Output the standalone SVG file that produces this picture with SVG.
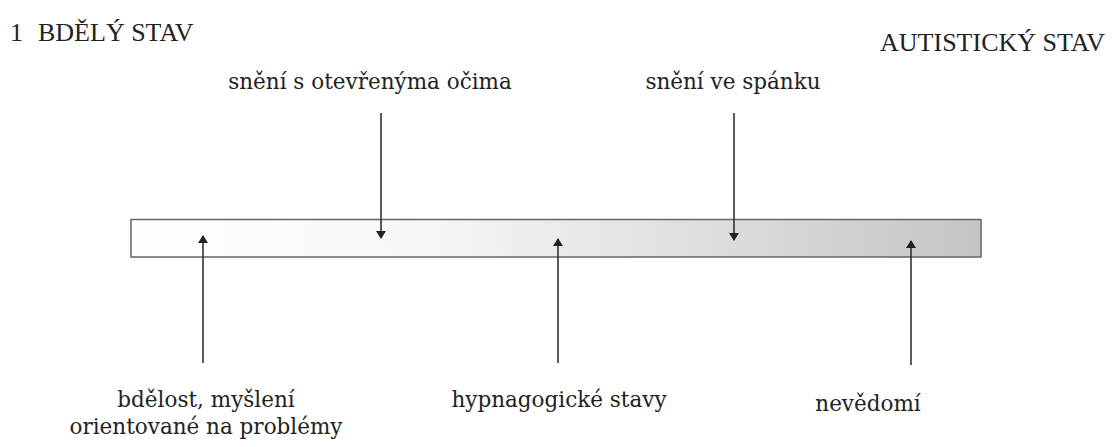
<svg xmlns="http://www.w3.org/2000/svg" width="1116" height="447" viewBox="0 0 1116 447">
<defs>
<linearGradient id="g" x1="0" y1="0" x2="1" y2="0">
<stop offset="0" stop-color="#ffffff"/>
<stop offset="0.35" stop-color="#f6f6f6"/>
<stop offset="0.7" stop-color="#dcdcdc"/>
<stop offset="1" stop-color="#c4c4c4"/>
</linearGradient>
<marker id="ah" viewBox="0 0 8 10" refX="7" refY="5" markerWidth="8" markerHeight="10" markerUnits="userSpaceOnUse" orient="auto">
<path d="M0,0 L8,5 L0,10 z" fill="#222"/>
</marker>
</defs>
<style>
.ttl{font-family:"Liberation Serif",serif;fill:#222;font-size:26px}
.lbl{font-family:"DejaVu Serif",serif;fill:#222;font-size:21.5px;text-anchor:middle}
.arr{stroke:#333;stroke-width:1.6;fill:none;marker-end:url(#ah)}
</style>
<rect width="1116" height="447" fill="#fff"/>
<g id="bar">
<rect x="131" y="219.5" width="850" height="37.5" fill="url(#g)" stroke="#666" stroke-width="1.5"/>
</g>
<g id="title-left"><text class="ttl" x="10" y="41">1</text><text class="ttl" x="38" y="41">BDĚLÝ STAV</text></g>
<g id="title-right"><text class="ttl" x="1105" y="51" text-anchor="end">AUTISTICKÝ STAV</text></g>
<g id="n1"><text class="lbl" x="370" y="89">snění s otevřenýma očima</text></g>
<g id="n2"><text class="lbl" x="733" y="89">snění ve spánku</text></g>
<g id="n3"><text class="lbl" x="206" y="407">bdělost, myšlení</text><text class="lbl" x="206" y="434">orientované na problémy</text></g>
<g id="n4"><text class="lbl" x="559" y="407">hypnagogické stavy</text></g>
<g id="n5"><text class="lbl" x="868" y="411">nevědomí</text></g>
<g id="connectors">
<line class="arr" x1="381" y1="113" x2="381" y2="238"/>
<line class="arr" x1="734" y1="113" x2="734" y2="240"/>
<line class="arr" x1="203" y1="363" x2="203" y2="236"/>
<line class="arr" x1="558" y1="363" x2="558" y2="239"/>
<line class="arr" x1="911" y1="365" x2="911" y2="241"/>
</g>
</svg>
